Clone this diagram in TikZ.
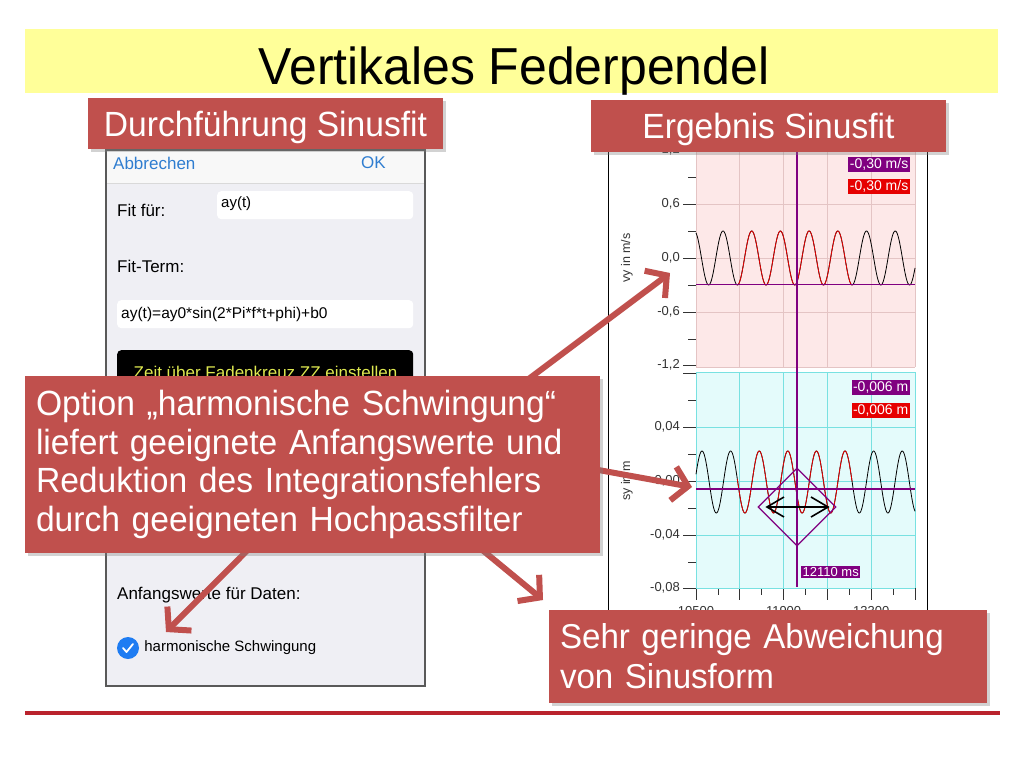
\documentclass[tikz,border=0pt]{standalone}
\usepackage{fontspec}
\setmainfont{Liberation Sans}
\newfontfamily\slidefont[FakeStretch=0.96]{Liberation Sans}
\usepackage{tikz}
\usetikzlibrary{arrows.meta,shapes.geometric,shadows,positioning,calc}
\definecolor{slidered}{RGB}{192,80,77}
\definecolor{bandyellow}{RGB}{255,255,153}
\definecolor{rulered}{RGB}{186,35,45}
\definecolor{iosgray}{RGB}{239,239,244}
\definecolor{iosbar}{RGB}{248,248,248}
\definecolor{iosblue}{RGB}{47,125,208}
\definecolor{checkblue}{RGB}{30,124,242}
\definecolor{zzyellow}{RGB}{222,232,80}
\definecolor{plotpink}{RGB}{253,232,232}
\definecolor{gridpink}{RGB}{228,196,196}
\definecolor{plotcyan}{RGB}{228,251,251}
\definecolor{gridcyan}{RGB}{120,225,225}
\definecolor{fitpurple}{RGB}{128,0,128}
\definecolor{fitred}{RGB}{230,0,0}
\pgfdeclarelayer{back}
\pgfdeclarelayer{mid}
\pgfsetlayers{back,mid,main}
\tikzstyle{BAND} = [rectangle, fill=bandyellow, inner sep=0pt, minimum width=973pt, minimum height=64pt]
\tikzstyle{HEADBOX} = [rectangle, fill=slidered, text=white, inner sep=0pt, text depth=0pt, minimum width=355pt, minimum height=51pt, font=\slidefont\fontsize{35}{40}\selectfont, drop shadow={shadow xshift=2.5pt, shadow yshift=-2.5pt, opacity=0.35}]
\tikzstyle{NOTEBOX} = [rectangle, fill=slidered, text=white, align=left, inner xsep=11pt, inner ysep=0pt, font=\slidefont\fontsize{35}{38.5}\selectfont, drop shadow={shadow xshift=2.5pt, shadow yshift=-2.5pt, opacity=0.35}]
\tikzstyle{ARROW} = [draw=slidered, line width=6pt, -{Straight Barb[length=15pt,width=34pt]}]
\tikzstyle{IOSTEXT} = [anchor=west, inner sep=0pt, font=\fontsize{17}{20}\selectfont]
\tikzstyle{FIELD} = [rectangle, fill=white, rounded corners=4pt, anchor=north west, inner sep=0pt]
\tikzstyle{TICK} = [anchor=east, inner sep=0pt, text=black!80, font=\fontsize{13}{15}\selectfont]
\tikzstyle{AXISTITLE} = [rotate=90, inner sep=0pt, text=black!80, font=\fontsize{12.5}{14}\selectfont]
\tikzstyle{VALUE} = [anchor=north east, text=white, inner xsep=1.5pt, inner ysep=1.5pt, font=\fontsize{14}{16}\selectfont]
\tikzstyle{CURVE} = [line width=0.8pt, samples=400]

\begin{document}
\begin{tikzpicture}[x=1pt, y=-1pt]
\useasboundingbox (0,0) rectangle (1024,768);
% Place nodes
\node[BAND] (band) at (511.5,61) {};
\node[anchor=base, inner sep=0pt, font=\slidefont\fontsize{52}{58}\selectfont] (title) at (514,84) {Vertikales Federpendel};
\node[HEADBOX] (doing) at (265.5,123.5) {Durchführung Sinusfit};
\node[HEADBOX, minimum height=52pt] (result) at (768.5,126) {Ergebnis Sinusfit};
\node[NOTEBOX, text width=553pt, minimum height=177pt] (note) at (312.5,464.5) {Option „harmonische Schwingung“\\ liefert geeignete Anfangswerte und\\ Reduktion des Integrationsfehlers\\ durch geeigneten Hochpassfilter};
\node[NOTEBOX, text width=416pt, minimum height=93pt, font=\slidefont\fontsize{34.5}{40}\selectfont] (deviation) at (768,656.5) {Sehr geringe Abweichung\\ von Sinusform};
\draw[rulered, line width=3.5pt] (25,713) -- (1000,713);

% screenshot of the fit dialog
\begin{pgfonlayer}{back}
\fill[white] (0,0) rectangle (1024,768);
\draw[black!65, line width=1.2pt, fill=iosgray] (106,150) rectangle (425,686);
\fill[iosbar] (107,151) rectangle (424,183);
\draw[black!15] (107,183.5) -- (424,183.5);
\node[IOSTEXT, text=iosblue] (cancel) at (113,163) {Abbrechen};
\node[IOSTEXT, text=iosblue, anchor=east] (ok) at (386,163) {OK};
\node[IOSTEXT] (fitfor) at (117,210) {Fit für:};
\node[FIELD, minimum width=196pt, minimum height=28pt] (forfield) at (217,191) {};
\node[anchor=west, inner sep=0pt, font=\fontsize{15}{17}\selectfont] (fortext) at (221,204) {ay(t)};
\node[IOSTEXT] (fitterm) at (117,266) {Fit-Term:};
\node[FIELD, minimum width=296pt, minimum height=28pt] (termfield) at (117,300) {};
\node[IOSTEXT, font=\fontsize{15.5}{18}\selectfont] (termtext) at (121,314) {ay(t)=ay0*sin(2*Pi*f*t+phi)+b0};
\node[FIELD, fill=black, minimum width=296pt, minimum height=46pt] (zzbutton) at (117,350) {};
\node[inner sep=0pt, text=zzyellow, font=\fontsize{17}{20}\selectfont] (zztext) at (265.5,372) {Zeit über Fadenkreuz ZZ einstellen};
\node[IOSTEXT] (startvals) at (117,595) {Anfangswerte für Daten:};
\node[circle, fill=checkblue, minimum size=22pt, inner sep=0pt] (check) at (128,648) {};
\draw[white, line width=1.8pt, line cap=round, line join=round] ($(check)+(-5,0)$) -- ++(3.5,4) -- ++(6.5,-8);
\node[IOSTEXT, font=\fontsize{15}{17}\selectfont, right=5pt of check] (harmonic) {harmonische Schwingung};

% screenshot of the fit result
\draw[black, line width=1pt] (608,150) -- (608,625);
\draw[black, line width=1pt] (927,150) -- (927,625);
\fill[plotpink] (696,150) rectangle (915,367);
\fill[plotcyan] (696,372) rectangle (915,588);
\foreach \gx in {696,739.8,783.6,827.4,871.2,915} {
  \draw[gridpink, line width=0.8pt] (\gx,150) -- (\gx,367);
  \draw[gridcyan, line width=0.8pt] (\gx,372) -- (\gx,588);
  \draw[black!80, line width=0.8pt] (\gx,588) -- (\gx,600);
}
\foreach \gx in {717.9,761.7,805.5,849.3,893.1}
  \draw[black!80, line width=0.8pt] (\gx,588) -- (\gx,595);
\foreach \gy in {204,258,312,367}
  \draw[gridpink, line width=0.8pt] (696,\gy) -- (915,\gy);
\foreach \gy in {372,427,481,535,588}
  \draw[gridcyan, line width=0.8pt] (696,\gy) -- (915,\gy);
\foreach \gy in {150,204,258,312,365,373,427,481,535,588}
  \draw[black!80, line width=0.8pt] (683,\gy) -- (696,\gy);
\foreach \gy in {177,231,285,339,400,454,508,562}
  \draw[black!80, line width=0.8pt] (688,\gy) -- (696,\gy);
\node[TICK] (vtop) at (680,150) {1,2};
\node[TICK] (vhigh) at (680,204) {0,6};
\node[TICK] (vzero) at (680,258) {0,0};
\node[TICK] (vlow) at (680,312) {-0,6};
\node[TICK] (vbottom) at (680,365) {-1,2};
\node[TICK] (shigh) at (680,427) {0,04};
\node[TICK] (szero) at (680,481) {0,00};
\node[TICK] (slow) at (680,535) {-0,04};
\node[TICK] (sbottom) at (680,588) {-0,08};
\node[TICK, anchor=north] (tfirst) at (696,606) {10500};
\node[TICK, anchor=north] (tsecond) at (783.6,606) {11900};
\node[TICK, anchor=north] (tthird) at (871.2,606) {13300};
\node[AXISTITLE] (vytitle) at (627,258) {vy in m/s};
\node[AXISTITLE] (sytitle) at (627,481) {sy in m};
\draw[CURVE, black] plot[domain=696:915] (\x,{258-27*cos((\x-723)*12.5436)});
\draw[CURVE, fitred] plot[domain=737.35:852.1] (\x,{258-27*cos((\x-723)*12.5436)});
\draw[CURVE, black] plot[domain=696:915] (\x,{482-31*cos((\x-702)*12.5874)});
\draw[CURVE, fitred] plot[domain=737.35:852.1] (\x,{482-31*cos((\x-702)*12.5874)});
\draw[fitpurple, line width=1.5pt] (797,150) -- (797,587);
\draw[fitpurple, line width=1.5pt] (696,284.5) -- (915,284.5);
\draw[fitpurple, line width=1.5pt] (696,489) -- (915,489);
\node[diamond, draw=fitpurple, line width=1.2pt, minimum width=78pt, minimum height=78pt, inner sep=0pt] (window) at (797,507) {};
\draw[black, line width=1.6pt, {Straight Barb[length=17pt,width=20pt]}-{Straight Barb[length=17pt,width=20pt]}] ([xshift=8pt]window.west) -- ([xshift=-7pt]window.east);
\node[VALUE, fill=fitpurple] (vycross) at (910,157) {-0,30 m/s};
\node[VALUE, fill=fitred] (vyfit) at (910,179) {-0,30 m/s};
\node[VALUE, fill=fitpurple] (sycross) at (910,380) {-0,006 m};
\node[VALUE, fill=fitred] (syfit) at (910,403) {-0,006 m};
\node[VALUE, fill=fitpurple, anchor=north west, font=\fontsize{13}{15}\selectfont] (tcross) at (801,566) {12110 ms};
\end{pgfonlayer}

% LINES and ARROWS
\coordinate (vyline) at (670,273);
\coordinate (syline) at (692,487);
\coordinate (checkbox) at (166,632);
\coordinate (sineshape) at (543,600);
\begin{pgfonlayer}{mid}
\draw[ARROW] ([xshift=207pt,yshift=-10pt]note.north) -- (vyline);
\draw[ARROW] ([xshift=-10pt,yshift=-4pt]note.east) -- (syline);
\draw[ARROW] ([xshift=-60pt,yshift=8pt]note.south) -- (checkbox);
\draw[ARROW] ([xshift=164pt,yshift=8pt]note.south) -- (sineshape);
\end{pgfonlayer}
\end{tikzpicture}
\end{document}
